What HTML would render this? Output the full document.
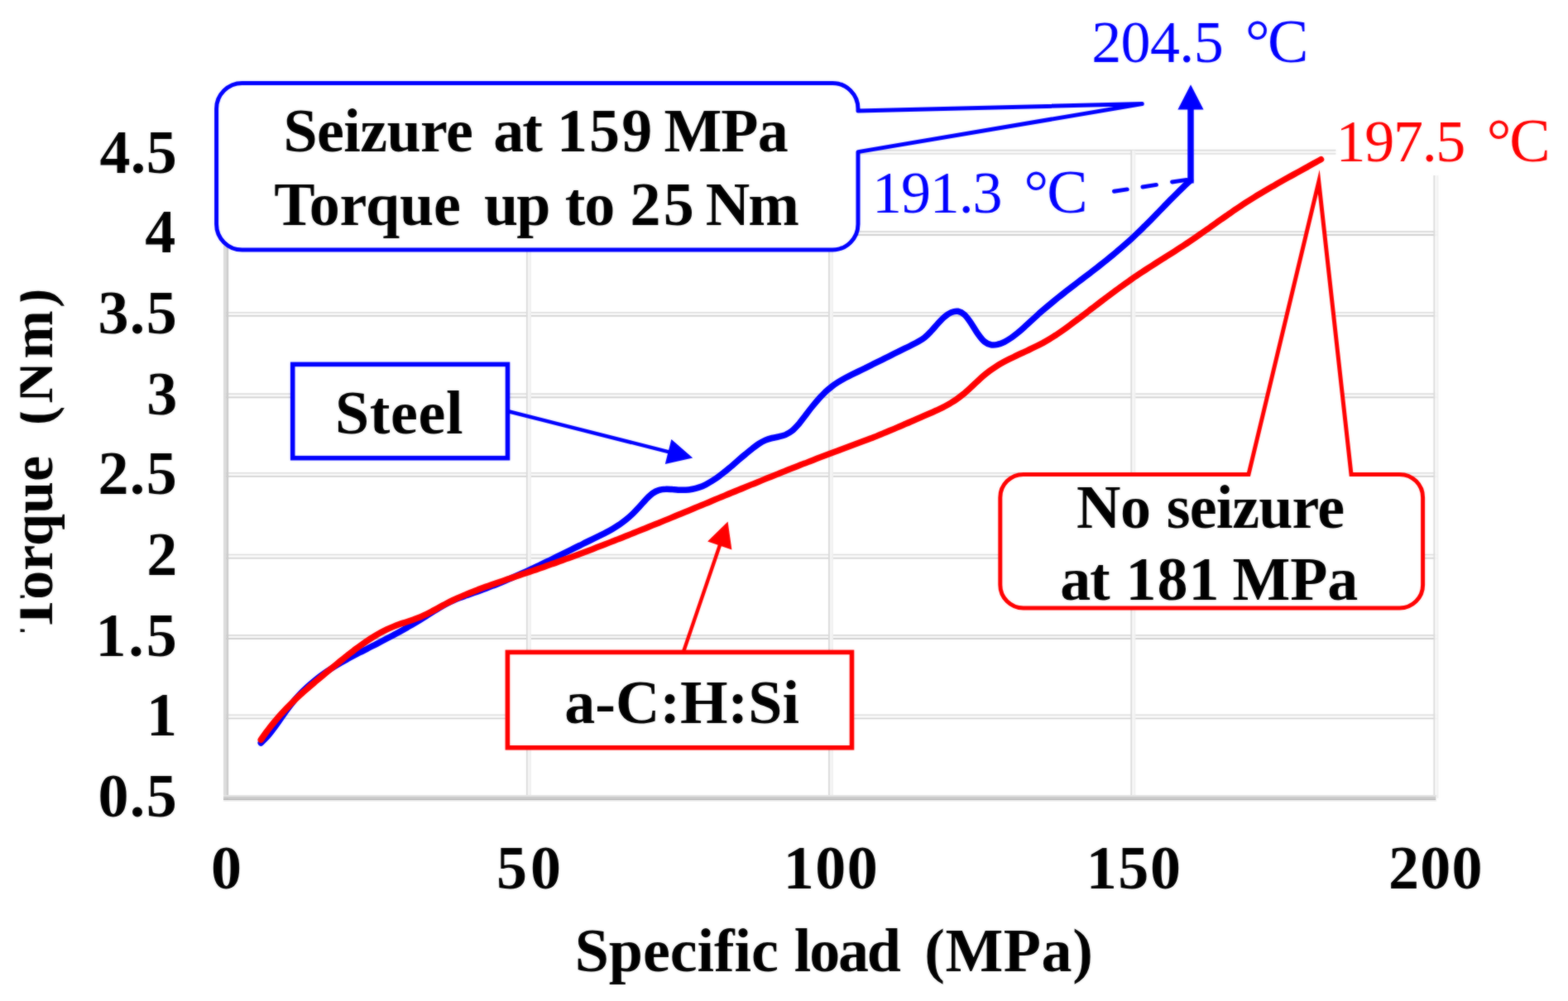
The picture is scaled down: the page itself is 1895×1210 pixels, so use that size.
<!DOCTYPE html>
<html lang="en"><head><meta charset="utf-8"><title>Torque vs specific load</title>
<style>
html,body{margin:0;padding:0;background:#fff;}
body{width:1895px;height:1210px;overflow:hidden;}
svg{display:block;}
text{font-family:"Liberation Serif","DejaVu Serif",serif;font-size:74px;}
.b{font-weight:bold;fill:#000;}
.bl{fill:#0000ff;font-size:72px;}.rd{fill:#ff0000;font-size:72px;}
</style></head><body>
<svg width="1895" height="1210" viewBox="0 0 1895 1210" role="img" aria-label="Torque versus specific load for steel and a-C:H:Si">
<defs><filter id="soft" x="-10" y="-10" width="1915" height="1230" filterUnits="userSpaceOnUse" color-interpolation-filters="sRGB"><feGaussianBlur stdDeviation="0.9" result="b"/><feComposite in="SourceGraphic" in2="b" operator="arithmetic" k1="0" k2="0.5" k3="0.5" k4="0"/></filter></defs>
<g filter="url(#soft)">
<rect x="-5" y="-5" width="1905" height="1220" fill="#ffffff"/>
<g fill="none" stroke-width="1.9">
<line x1="273" y1="181.8" x2="1737.3" y2="181.8" stroke="#d9d9d9"/>
<line x1="273" y1="185.8" x2="1737.3" y2="185.8" stroke="#e0e0e0"/>
<line x1="273" y1="183.8" x2="1737.3" y2="183.8" stroke="#fafafa" stroke-width="2.1"/>
<line x1="273" y1="280" x2="1737.3" y2="280" stroke="#dcdcdc"/>
<line x1="273" y1="284" x2="1737.3" y2="284" stroke="#d0d0d0"/>
<line x1="273" y1="282" x2="1737.3" y2="282" stroke="#fafafa" stroke-width="2.1"/>
<line x1="273" y1="377.9" x2="1737.3" y2="377.9" stroke="#dcdcdc"/>
<line x1="273" y1="381.9" x2="1737.3" y2="381.9" stroke="#d0d0d0"/>
<line x1="273" y1="379.9" x2="1737.3" y2="379.9" stroke="#fafafa" stroke-width="2.1"/>
<line x1="273" y1="476.2" x2="1737.3" y2="476.2" stroke="#dcdcdc"/>
<line x1="273" y1="480.2" x2="1737.3" y2="480.2" stroke="#d0d0d0"/>
<line x1="273" y1="478.2" x2="1737.3" y2="478.2" stroke="#fafafa" stroke-width="2.1"/>
<line x1="273" y1="571.9" x2="1737.3" y2="571.9" stroke="#dcdcdc"/>
<line x1="273" y1="575.9" x2="1737.3" y2="575.9" stroke="#d0d0d0"/>
<line x1="273" y1="573.9" x2="1737.3" y2="573.9" stroke="#fafafa" stroke-width="2.1"/>
<line x1="273" y1="670.6" x2="1737.3" y2="670.6" stroke="#dcdcdc"/>
<line x1="273" y1="674.6" x2="1737.3" y2="674.6" stroke="#d0d0d0"/>
<line x1="273" y1="672.6" x2="1737.3" y2="672.6" stroke="#fafafa" stroke-width="2.1"/>
<line x1="273" y1="768" x2="1737.3" y2="768" stroke="#dcdcdc"/>
<line x1="273" y1="772" x2="1737.3" y2="772" stroke="#d0d0d0"/>
<line x1="273" y1="770" x2="1737.3" y2="770" stroke="#fafafa" stroke-width="2.1"/>
<line x1="273" y1="864.4" x2="1737.3" y2="864.4" stroke="#dcdcdc"/>
<line x1="273" y1="868.4" x2="1737.3" y2="868.4" stroke="#d0d0d0"/>
<line x1="273" y1="866.4" x2="1737.3" y2="866.4" stroke="#fafafa" stroke-width="2.1"/>
<line x1="636.9" y1="181.8" x2="636.9" y2="965" stroke="#d9d9d9"/>
<line x1="641" y1="181.8" x2="641" y2="965" stroke="#efefef"/>
<line x1="639" y1="181.8" x2="639" y2="965" stroke="#f6f6f6" stroke-width="2.4"/>
<line x1="1002" y1="181.8" x2="1002" y2="965" stroke="#d9d9d9"/>
<line x1="1006.1" y1="181.8" x2="1006.1" y2="965" stroke="#efefef"/>
<line x1="1004.1" y1="181.8" x2="1004.1" y2="965" stroke="#f6f6f6" stroke-width="2.4"/>
<line x1="1367.3" y1="181.8" x2="1367.3" y2="965" stroke="#d9d9d9"/>
<line x1="1371.4" y1="181.8" x2="1371.4" y2="965" stroke="#efefef"/>
<line x1="1369.4" y1="181.8" x2="1369.4" y2="965" stroke="#f6f6f6" stroke-width="2.4"/>
<line x1="1733.4" y1="181.8" x2="1733.4" y2="965" stroke="#d9d9d9"/>
<line x1="1737.5" y1="181.8" x2="1737.5" y2="965" stroke="#efefef"/>
<line x1="1735.5" y1="181.8" x2="1735.5" y2="965" stroke="#f6f6f6" stroke-width="2.4"/>
</g>
<rect x="270" y="180.8" width="3.4" height="786.2" fill="#dcdcdc"/>
<rect x="273.4" y="180.8" width="2.8" height="786.2" fill="#cbcbcb"/>
<rect x="270" y="961" width="1466.3" height="2" fill="#e4e4e4"/>
<rect x="270" y="962.9" width="1465.3" height="2.7" fill="#cccccc"/>
<rect x="270" y="965.5" width="1465.3" height="1.7" fill="#b0b0b0"/>
<rect x="270" y="967.2" width="1466.3" height="1.8" fill="#f0f0f0"/>
<text class="b" x="120.4" y="209.0" style="letter-spacing:0.45px">4.5</text>
<text class="b" x="175.3" y="304.9">4</text>
<text class="b" x="118.4" y="403.0" style="letter-spacing:1.45px">3.5</text>
<text class="b" x="177.3" y="501.0">3</text>
<text class="b" x="118.4" y="597.0" style="letter-spacing:1.45px">2.5</text>
<text class="b" x="177.3" y="695.3">2</text>
<text class="b" x="115.4" y="792.8" style="letter-spacing:2.95px">1.5</text>
<text class="b" x="177.1" y="888.6">1</text>
<text class="b" x="118.4" y="986.9" style="letter-spacing:1.45px">0.5</text>
<clipPath id="yc"><rect x="24.5" y="0" width="200" height="1210"/></clipPath>
<g clip-path="url(#yc)">
<text class="b" transform="translate(63.3 765) rotate(-90)" style="font-size:70px"><tspan x="0" y="0">Torque</tspan> <tspan x="251" y="0" style="letter-spacing:3.3px">(Nm)</tspan></text>
</g>
<path d="M315.3 898.0C316.6 896.7 320.6 893.2 323.3 890.1C326.0 887.1 328.7 883.5 331.3 879.9C334.0 876.4 336.7 872.4 339.4 868.6C342.0 864.8 344.7 860.8 347.4 857.2C350.1 853.6 352.7 850.2 355.4 847.0C358.1 843.8 360.8 840.9 363.4 838.1C366.1 835.3 368.8 832.8 371.5 830.3C374.1 827.9 376.8 825.6 379.5 823.4C382.2 821.2 384.8 819.1 387.5 817.1C390.2 815.1 392.9 813.2 395.5 811.4C398.2 809.5 400.9 807.8 403.6 806.1C406.2 804.5 408.9 802.9 411.6 801.3C414.2 799.7 416.9 798.2 419.6 796.8C422.3 795.3 424.9 793.9 427.6 792.5C430.3 791.1 433.0 789.7 435.6 788.3C438.3 787.0 441.0 785.6 443.7 784.3C446.3 782.9 449.0 781.5 451.7 780.2C454.4 778.8 457.0 777.4 459.7 776.0C462.4 774.6 465.1 773.2 467.7 771.8C470.4 770.4 473.1 769.0 475.8 767.6C478.4 766.1 481.1 764.7 483.8 763.2C486.5 761.7 489.1 760.2 491.8 758.7C494.5 757.1 497.2 755.6 499.8 754.0C502.5 752.4 505.2 750.8 507.8 749.2C510.5 747.5 513.2 745.8 515.9 744.2C518.5 742.5 521.2 740.8 523.9 739.1C526.6 737.5 529.2 735.8 531.9 734.3C534.6 732.7 537.3 731.2 539.9 729.8C542.6 728.4 545.3 727.1 548.0 725.9C550.6 724.7 553.3 723.6 556.0 722.6C558.7 721.5 561.3 720.6 564.0 719.6C566.7 718.7 569.4 717.8 572.0 716.8C574.7 715.9 577.4 715.0 580.1 714.0C582.7 713.0 585.4 712.1 588.1 711.0C590.8 710.0 593.4 709.0 596.1 707.9C598.8 706.9 601.4 705.8 604.1 704.7C606.8 703.6 609.5 702.5 612.1 701.3C614.8 700.2 617.5 699.0 620.2 697.8C622.8 696.7 625.5 695.5 628.2 694.3C630.9 693.1 633.5 691.8 636.2 690.6C638.9 689.4 641.6 688.1 644.2 686.9C646.9 685.6 649.6 684.3 652.3 683.1C654.9 681.8 657.6 680.5 660.3 679.2C663.0 677.9 665.6 676.6 668.3 675.3C671.0 674.0 673.7 672.7 676.3 671.4C679.0 670.0 681.7 668.7 684.4 667.4C687.0 666.1 689.7 664.8 692.4 663.4C695.0 662.1 697.7 660.8 700.4 659.5C703.1 658.2 705.7 656.8 708.4 655.5C711.1 654.2 713.8 652.9 716.4 651.6C719.1 650.3 721.8 649.0 724.5 647.7C727.1 646.4 729.8 645.1 732.5 643.7C735.2 642.3 737.8 640.8 740.5 639.2C743.2 637.6 745.9 636.0 748.5 634.2C751.2 632.3 753.9 630.4 756.6 628.2C759.2 626.0 761.9 623.7 764.6 621.1C767.3 618.5 769.9 615.6 772.6 612.7C775.3 609.8 778.0 606.5 780.6 603.8C783.3 601.1 786.0 598.3 788.6 596.4C791.3 594.5 794.0 593.2 796.7 592.4C799.3 591.5 802.0 591.3 804.7 591.2C807.4 591.0 810.0 591.4 812.7 591.6C815.4 591.7 818.1 592.1 820.7 592.3C823.4 592.4 826.1 592.4 828.8 592.2C831.4 592.1 834.1 591.7 836.8 591.2C839.5 590.7 842.1 590.0 844.8 589.1C847.5 588.2 850.2 587.1 852.8 585.8C855.5 584.4 858.2 582.9 860.9 581.2C863.5 579.5 866.2 577.7 868.9 575.7C871.6 573.7 874.2 571.6 876.9 569.5C879.6 567.3 882.2 565.0 884.9 562.8C887.6 560.5 890.3 558.1 892.9 555.8C895.6 553.5 898.3 551.2 901.0 549.0C903.6 546.7 906.3 544.4 909.0 542.4C911.7 540.3 914.3 538.2 917.0 536.5C919.7 534.8 922.4 533.3 925.0 532.1C927.7 530.9 930.4 530.2 933.1 529.5C935.7 528.8 938.4 528.6 941.1 527.9C943.8 527.2 946.4 526.7 949.1 525.6C951.8 524.4 954.5 523.0 957.1 520.9C959.8 518.8 962.5 515.8 965.2 512.8C967.8 509.7 970.5 505.9 973.2 502.5C975.8 499.0 978.5 495.3 981.2 492.0C983.9 488.6 986.5 485.4 989.2 482.4C991.9 479.4 994.6 476.7 997.2 474.1C999.9 471.6 1002.6 469.4 1005.3 467.3C1007.9 465.2 1010.6 463.4 1013.3 461.7C1016.0 460.0 1018.6 458.5 1021.3 457.0C1024.0 455.6 1026.7 454.2 1029.3 452.9C1032.0 451.6 1034.7 450.3 1037.4 449.0C1040.0 447.7 1042.7 446.4 1045.4 445.1C1048.1 443.7 1050.7 442.4 1053.4 441.1C1056.1 439.8 1058.8 438.4 1061.4 437.1C1064.1 435.8 1066.8 434.5 1069.4 433.1C1072.1 431.8 1074.8 430.5 1077.5 429.1C1080.1 427.8 1082.8 426.5 1085.5 425.2C1088.2 423.8 1090.8 422.5 1093.5 421.2C1096.2 419.9 1098.9 418.6 1101.5 417.2C1104.2 415.9 1106.9 414.7 1109.6 413.1C1112.2 411.6 1114.9 410.0 1117.6 407.8C1120.3 405.6 1122.9 402.8 1125.6 400.0C1128.3 397.2 1131.0 393.8 1133.6 391.0C1136.3 388.1 1139.0 385.1 1141.7 382.9C1144.3 380.7 1147.0 378.7 1149.7 377.6C1152.4 376.5 1155.0 375.8 1157.7 376.3C1160.4 376.8 1163.0 378.1 1165.7 380.5C1168.4 383.0 1171.1 387.0 1173.7 390.8C1176.4 394.7 1179.1 399.8 1181.8 403.5C1184.4 407.2 1187.1 410.8 1189.8 413.0C1192.5 415.2 1195.1 416.3 1197.8 416.8C1200.5 417.4 1203.2 416.9 1205.8 416.3C1208.5 415.8 1211.2 414.6 1213.9 413.3C1216.5 412.0 1219.2 410.3 1221.9 408.5C1224.6 406.7 1227.2 404.5 1229.9 402.4C1232.6 400.2 1235.3 397.8 1237.9 395.4C1240.6 393.0 1243.3 390.5 1246.0 388.0C1248.6 385.6 1251.3 383.1 1254.0 380.7C1256.6 378.3 1259.3 376.0 1262.0 373.7C1264.7 371.4 1267.3 369.2 1270.0 367.0C1272.7 364.7 1275.4 362.6 1278.0 360.4C1280.7 358.3 1283.4 356.2 1286.1 354.0C1288.7 351.9 1291.4 349.9 1294.1 347.8C1296.8 345.7 1299.4 343.7 1302.1 341.6C1304.8 339.6 1307.5 337.6 1310.1 335.5C1312.8 333.5 1315.5 331.4 1318.2 329.4C1320.8 327.3 1323.5 325.2 1326.2 323.2C1328.9 321.1 1331.5 319.0 1334.2 316.9C1336.9 314.7 1339.6 312.6 1342.2 310.4C1344.9 308.2 1347.6 306.0 1350.2 303.7C1352.9 301.5 1355.6 299.2 1358.3 296.8C1360.9 294.5 1363.6 292.1 1366.3 289.7C1369.0 287.2 1371.6 284.7 1374.3 282.1C1377.0 279.6 1379.7 277.0 1382.3 274.3C1385.0 271.7 1387.7 269.0 1390.4 266.3C1393.0 263.6 1395.7 260.9 1398.4 258.1C1401.1 255.4 1403.7 252.6 1406.4 249.9C1409.1 247.2 1411.8 244.4 1414.4 241.7C1417.1 239.0 1419.8 236.3 1422.5 233.6C1425.1 230.9 1427.8 228.3 1430.5 225.7C1433.2 223.1 1437.2 219.3 1438.5 218.0" fill="none" stroke="#0000ff" stroke-width="7.5" stroke-linecap="round" stroke-linejoin="round"/>
<path d="M315.3 894.2C316.6 892.4 320.6 886.6 323.3 883.1C326.0 879.6 328.6 876.2 331.3 873.0C334.0 869.7 336.7 866.6 339.3 863.6C342.0 860.7 344.7 857.8 347.3 855.1C350.0 852.3 352.7 849.6 355.3 847.1C358.0 844.5 360.7 842.0 363.3 839.6C366.0 837.1 368.7 834.8 371.4 832.5C374.0 830.1 376.7 827.9 379.4 825.6C382.0 823.3 384.7 821.1 387.4 818.9C390.0 816.7 392.7 814.5 395.4 812.2C398.0 810.0 400.7 807.8 403.4 805.6C406.1 803.4 408.7 801.2 411.4 799.0C414.1 796.9 416.7 794.7 419.4 792.6C422.1 790.5 424.7 788.4 427.4 786.4C430.1 784.4 432.7 782.4 435.4 780.5C438.1 778.6 440.8 776.7 443.4 774.9C446.1 773.1 448.8 771.4 451.4 769.8C454.1 768.1 456.8 766.6 459.4 765.1C462.1 763.6 464.8 762.2 467.4 760.9C470.1 759.6 472.8 758.5 475.5 757.4C478.1 756.3 480.8 755.3 483.5 754.3C486.1 753.4 488.8 752.6 491.5 751.7C494.1 750.8 496.8 749.9 499.5 749.0C502.1 748.0 504.8 747.1 507.5 746.0C510.1 744.8 512.8 743.6 515.5 742.3C518.2 741.0 520.8 739.6 523.5 738.2C526.2 736.8 528.8 735.3 531.5 733.8C534.2 732.4 536.8 730.9 539.5 729.5C542.2 728.1 544.8 726.8 547.5 725.5C550.2 724.2 552.9 723.0 555.5 721.8C558.2 720.6 560.9 719.5 563.5 718.4C566.2 717.3 568.9 716.2 571.5 715.2C574.2 714.1 576.9 713.1 579.5 712.1C582.2 711.1 584.9 710.1 587.6 709.1C590.2 708.1 592.9 707.2 595.6 706.2C598.2 705.3 600.9 704.4 603.6 703.5C606.2 702.5 608.9 701.6 611.6 700.7C614.2 699.8 616.9 699.0 619.6 698.1C622.3 697.2 624.9 696.3 627.6 695.4C630.3 694.5 632.9 693.6 635.6 692.7C638.3 691.8 640.9 690.9 643.6 690.0C646.3 689.1 648.9 688.2 651.6 687.2C654.3 686.3 657.0 685.4 659.6 684.4C662.3 683.5 665.0 682.6 667.6 681.6C670.3 680.7 673.0 679.7 675.6 678.7C678.3 677.8 681.0 676.8 683.6 675.8C686.3 674.9 689.0 673.9 691.7 672.9C694.3 671.9 697.0 670.9 699.7 669.9C702.3 668.9 705.0 667.9 707.7 666.9C710.3 665.9 713.0 664.9 715.7 663.9C718.3 662.9 721.0 661.8 723.7 660.8C726.4 659.8 729.0 658.8 731.7 657.7C734.4 656.7 737.0 655.7 739.7 654.6C742.4 653.6 745.0 652.5 747.7 651.5C750.4 650.4 753.0 649.4 755.7 648.3C758.4 647.2 761.1 646.2 763.7 645.1C766.4 644.0 769.1 643.0 771.7 641.9C774.4 640.8 777.1 639.7 779.7 638.7C782.4 637.6 785.1 636.5 787.7 635.4C790.4 634.3 793.1 633.2 795.8 632.2C798.4 631.1 801.1 630.0 803.8 628.9C806.4 627.8 809.1 626.7 811.8 625.6C814.4 624.5 817.1 623.4 819.8 622.3C822.4 621.2 825.1 620.1 827.8 619.0C830.4 617.9 833.1 616.8 835.8 615.7C838.5 614.6 841.1 613.5 843.8 612.4C846.5 611.3 849.1 610.2 851.8 609.1C854.5 608.0 857.1 606.9 859.8 605.7C862.5 604.6 865.1 603.5 867.8 602.4C870.5 601.3 873.2 600.2 875.8 599.1C878.5 598.0 881.2 596.9 883.8 595.8C886.5 594.7 889.2 593.6 891.8 592.5C894.5 591.4 897.2 590.3 899.8 589.2C902.5 588.1 905.2 587.0 907.9 585.9C910.5 584.9 913.2 583.8 915.9 582.7C918.5 581.6 921.2 580.5 923.9 579.4C926.5 578.3 929.2 577.3 931.9 576.2C934.5 575.1 937.2 574.0 939.9 573.0C942.6 571.9 945.2 570.8 947.9 569.8C950.6 568.7 953.2 567.6 955.9 566.6C958.6 565.5 961.2 564.5 963.9 563.4C966.6 562.4 969.2 561.3 971.9 560.3C974.6 559.3 977.3 558.2 979.9 557.2C982.6 556.2 985.3 555.1 987.9 554.1C990.6 553.1 993.3 552.1 995.9 551.1C998.6 550.1 1001.3 549.1 1003.9 548.1C1006.6 547.1 1009.3 546.1 1012.0 545.1C1014.6 544.1 1017.3 543.1 1020.0 542.1C1022.6 541.1 1025.3 540.1 1028.0 539.1C1030.6 538.1 1033.3 537.1 1036.0 536.1C1038.6 535.1 1041.3 534.1 1044.0 533.1C1046.7 532.1 1049.3 531.1 1052.0 530.0C1054.7 529.0 1057.3 527.9 1060.0 526.9C1062.7 525.8 1065.3 524.7 1068.0 523.6C1070.7 522.6 1073.3 521.4 1076.0 520.3C1078.7 519.2 1081.4 518.1 1084.0 516.9C1086.7 515.8 1089.4 514.6 1092.0 513.5C1094.7 512.3 1097.4 511.2 1100.0 510.0C1102.7 508.8 1105.4 507.6 1108.0 506.5C1110.7 505.3 1113.4 504.1 1116.0 503.0C1118.7 501.8 1121.4 500.7 1124.1 499.5C1126.7 498.3 1129.4 497.2 1132.1 496.0C1134.7 494.7 1137.4 493.5 1140.1 492.1C1142.7 490.7 1145.4 489.3 1148.1 487.7C1150.7 486.1 1153.4 484.5 1156.1 482.6C1158.8 480.7 1161.4 478.7 1164.1 476.5C1166.8 474.3 1169.4 471.9 1172.1 469.4C1174.8 467.0 1177.4 464.4 1180.1 462.0C1182.8 459.5 1185.4 457.0 1188.1 454.7C1190.8 452.4 1193.5 450.3 1196.1 448.3C1198.8 446.3 1201.5 444.5 1204.1 442.8C1206.8 441.1 1209.5 439.6 1212.1 438.1C1214.8 436.6 1217.5 435.2 1220.1 433.9C1222.8 432.5 1225.5 431.3 1228.2 430.0C1230.8 428.7 1233.5 427.5 1236.2 426.3C1238.8 425.0 1241.5 423.8 1244.2 422.5C1246.8 421.3 1249.5 420.0 1252.2 418.7C1254.8 417.4 1257.5 416.0 1260.2 414.6C1262.9 413.1 1265.5 411.6 1268.2 410.0C1270.9 408.4 1273.5 406.7 1276.2 405.0C1278.9 403.2 1281.5 401.4 1284.2 399.5C1286.9 397.6 1289.5 395.7 1292.2 393.7C1294.9 391.8 1297.6 389.7 1300.2 387.7C1302.9 385.7 1305.6 383.7 1308.2 381.7C1310.9 379.6 1313.6 377.6 1316.2 375.6C1318.9 373.5 1321.6 371.5 1324.2 369.4C1326.9 367.4 1329.6 365.4 1332.3 363.3C1334.9 361.3 1337.6 359.3 1340.3 357.3C1342.9 355.3 1345.6 353.3 1348.3 351.3C1350.9 349.3 1353.6 347.4 1356.3 345.5C1358.9 343.5 1361.6 341.6 1364.3 339.8C1367.0 337.9 1369.6 336.0 1372.3 334.2C1375.0 332.4 1377.6 330.6 1380.3 328.9C1383.0 327.1 1385.6 325.4 1388.3 323.6C1391.0 321.9 1393.6 320.2 1396.3 318.5C1399.0 316.8 1401.7 315.1 1404.3 313.4C1407.0 311.7 1409.7 310.1 1412.3 308.4C1415.0 306.7 1417.7 305.0 1420.3 303.3C1423.0 301.6 1425.7 299.8 1428.3 298.1C1431.0 296.3 1433.7 294.6 1436.3 292.8C1439.0 291.0 1441.7 289.2 1444.4 287.4C1447.0 285.5 1449.7 283.7 1452.4 281.8C1455.0 279.9 1457.7 278.1 1460.4 276.2C1463.0 274.3 1465.7 272.4 1468.4 270.5C1471.0 268.6 1473.7 266.7 1476.4 264.8C1479.1 263.0 1481.7 261.1 1484.4 259.2C1487.1 257.4 1489.7 255.5 1492.4 253.7C1495.1 251.9 1497.7 250.1 1500.4 248.3C1503.1 246.6 1505.7 244.8 1508.4 243.1C1511.1 241.4 1513.8 239.7 1516.4 238.1C1519.1 236.4 1521.8 234.8 1524.4 233.2C1527.1 231.6 1529.8 230.0 1532.4 228.5C1535.1 226.9 1537.8 225.4 1540.4 223.9C1543.1 222.3 1545.8 220.8 1548.5 219.3C1551.1 217.8 1553.8 216.3 1556.5 214.8C1559.1 213.4 1561.8 211.9 1564.5 210.4C1567.1 208.9 1569.8 207.5 1572.5 206.0C1575.1 204.5 1577.8 203.0 1580.5 201.6C1583.2 200.1 1585.8 198.6 1588.5 197.1C1591.2 195.6 1595.2 193.4 1596.5 192.6" fill="none" stroke="#ff0000" stroke-width="7.5" stroke-linecap="round" stroke-linejoin="round"/>
<line x1="1439" y1="221.5" x2="1439" y2="131" stroke="#0000ff" stroke-width="7.5"/>
<polygon points="1439,102.3 1423.4,132.4 1454.6,132.4" fill="#0000ff"/>
<g stroke="#0000ff" stroke-width="5" stroke-linecap="round">
<line x1="1346.5" y1="231.3" x2="1362.2" y2="228.9"/>
<line x1="1381" y1="226" x2="1397.4" y2="223.4"/>
<line x1="1416.6" y1="220" x2="1434" y2="217.4"/>
</g>
<rect x="1614.5" y="120" width="285" height="92" fill="#fff"/>
<path d="M292.6 100.4 H1006 A31 31 0 0 1 1037 131.4 V134 L1380.3 125.6 L1037 183.6 V271 A31 31 0 0 1 1006 302 H292.6 A31 31 0 0 1 261.6 271 V131.4 A31 31 0 0 1 292.6 100.4 Z" fill="#fff" stroke="#0000ff" stroke-width="5" stroke-linejoin="round"/>
<path d="M1236.8 573.4 H1509 L1593.8 219.6 L1633 573.4 H1691.6 A28 28 0 0 1 1719.6 601.4 V707 A28 28 0 0 1 1691.6 735 H1236.8 A28 28 0 0 1 1208.8 707 V601.4 A28 28 0 0 1 1236.8 573.4 Z" fill="#fff" stroke="#ff0000" stroke-width="5" stroke-linejoin="miter" stroke-miterlimit="12"/>
<line x1="613.5" y1="497.0" x2="808.6" y2="546.4" stroke="#0000ff" stroke-width="4.4"/><polygon points="837.2,553.6 803.8,561.1 811.4,531.1" fill="#0000ff"/>
<rect x="353.7" y="440.4" width="259.8" height="113.3" fill="#fff" stroke="#0000ff" stroke-width="5.6"/>
<line x1="825.6" y1="789.0" x2="870.1" y2="658.5" stroke="#ff0000" stroke-width="4.4"/><polygon points="879.6,630.6 884.4,664.5 855.1,654.5" fill="#ff0000"/>
<rect x="613.4" y="788.4" width="416.1" height="115.4" fill="#fff" stroke="#ff0000" stroke-width="5.6"/>
<text class="b" y="183.3"><tspan x="342.6" style="letter-spacing:-0.63px">Seizure</tspan> <tspan x="596.3" style="letter-spacing:-2.00px">at</tspan> <tspan x="672.9" style="letter-spacing:2.20px">159</tspan> <tspan x="802.4" style="letter-spacing:-0.90px">MPa</tspan></text>
<text class="b" y="271.9"><tspan x="331.3" style="letter-spacing:-0.14px">Torque</tspan> <tspan x="585.0" style="letter-spacing:-2.00px">up</tspan> <tspan x="682.7" style="letter-spacing:-1.00px">to</tspan> <tspan x="761.4" style="letter-spacing:3.30px">25</tspan> <tspan x="852.7" style="letter-spacing:-1.80px">Nm</tspan></text>
<text class="b" y="637.6"><tspan x="1301.1" style="letter-spacing:-0.60px">No</tspan> <tspan x="1409.8" style="letter-spacing:-0.88px">seizure</tspan></text>
<text class="b" y="725.2"><tspan x="1281.3" style="letter-spacing:-1.40px">at</tspan> <tspan x="1360.4" style="letter-spacing:1.00px">181</tspan> <tspan x="1489.5" style="letter-spacing:-0.20px">MPa</tspan></text>
<text class="b" y="523.8"><tspan x="404.9" style="letter-spacing:0.65px">Steel</tspan></text>
<text class="b" y="873.6"><tspan x="682.3">a-C:H:Si</tspan></text>
<text class="b" y="1173.6"><tspan x="694.8" style="letter-spacing:-0.09px">Specific</tspan> <tspan x="959.8" style="letter-spacing:-2.17px">load</tspan> <tspan x="1117.2" style="letter-spacing:0.57px">(MPa)</tspan></text>
<text class="b" y="1073.5"><tspan x="254.9">0</tspan> <tspan x="600.0" style="letter-spacing:4.00px">50</tspan> <tspan x="946.7" style="letter-spacing:1.55px">100</tspan> <tspan x="1312.7" style="letter-spacing:1.65px">150</tspan> <tspan x="1678.0" style="letter-spacing:1.30px">200</tspan></text>
<text class="bl" y="74.9"><tspan x="1319.2" style="letter-spacing:-0.62px">204.5</tspan> <tspan x="1505.1" style="font-size:74px">°</tspan><tspan x="1532.0" style="font-size:74px">C</tspan></text>
<text class="bl" y="256.8"><tspan x="1054.0" style="letter-spacing:-1.10px">191.3</tspan> <tspan x="1237.5" style="font-size:74px">°</tspan><tspan x="1265.3" style="font-size:74px">C</tspan></text>
<text class="rd" y="194.6"><tspan x="1614.6" style="letter-spacing:-1.32px">197.5</tspan> <tspan x="1796.8" style="font-size:74px">°</tspan><tspan x="1824.2" style="font-size:74px">C</tspan></text>
</g>
</svg>
</body></html>
